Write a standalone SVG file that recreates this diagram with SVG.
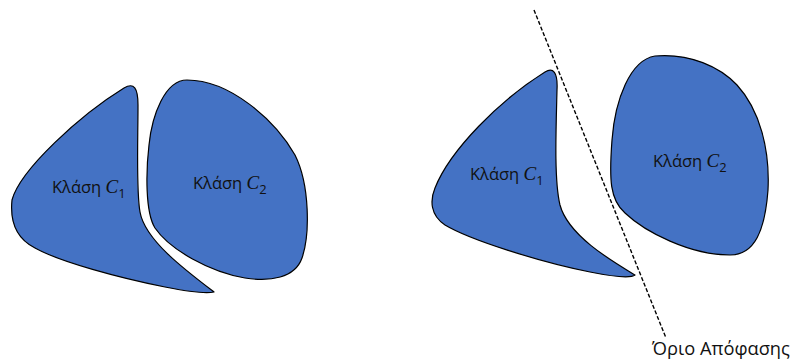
<svg xmlns="http://www.w3.org/2000/svg" width="795" height="363" viewBox="0 0 795 363">
<style>
.blob{fill:#4472C4;stroke:#000;stroke-width:1.2;stroke-linejoin:round}
.lbl{font-family:"Open Sans","Liberation Sans",Arial,sans-serif;font-size:16.5px;fill:#111}
.c{font-family:"Liberation Serif","Times New Roman",serif;font-style:italic;font-size:19px}
.sub{font-family:"Open Sans","Liberation Sans",Arial,sans-serif;font-style:normal;font-size:13px}
.bnd{stroke:#000;stroke-width:1.4;stroke-dasharray:4 2;fill:none}
.blbl{font-family:"Open Sans","Liberation Sans",Arial,sans-serif;font-size:18.3px;fill:#111}
</style>
<rect width="795" height="363" fill="#fff"/>
<g id="left-c1">
<path class="blob" d="M 124,88 C 134,82 138,88 138,105 C 138,140 136,190 140,212 C 145,240 185,270 214,292 C 205,294 180,290 165,287 C 120,278 60,262 35,248 C 15,238 10,220 12,200 C 20,170 80,115 124,88 Z"/>
<text class="lbl" x="52" y="193">Κλάση <tspan class="c">C</tspan><tspan class="sub" dy="5">1</tspan></text>
</g>
<g id="left-c2">
<path class="blob" d="M 187,80 C 230,80 275,120 295,155 C 310,185 310,235 302,258 C 295,278 270,282 245,278 C 210,272 170,250 155,228 C 145,212 146,170 149,145 C 152,115 165,80 187,80 Z"/>
<text class="lbl" x="193" y="189">Κλάση <tspan class="c">C</tspan><tspan class="sub" dy="5">2</tspan></text>
</g>
<g id="right-c1">
<path class="blob" d="M 545,72 C 553,67 558,72 557,90 C 556,130 554,180 560,205 C 568,235 610,260 635,275 C 630,279 610,276 590,272 C 540,262 470,240 445,225 C 430,215 430,200 435,188 C 450,150 500,100 545,72 Z"/>
<text class="lbl" x="470" y="180">Κλάση <tspan class="c">C</tspan><tspan class="sub" dy="5">1</tspan></text>
</g>
<g id="right-c2">
<path class="blob" d="M 655,56 C 630,60 615,100 612,140 C 609,180 610,200 625,213 C 645,232 690,255 730,255 C 755,255 765,230 768,190 C 770,150 760,110 737,85 C 720,67 690,53 655,56 Z"/>
<text class="lbl" x="653" y="167">Κλάση <tspan class="c">C</tspan><tspan class="sub" dy="5">2</tspan></text>
</g>
<g id="connectors">
<line class="bnd" x1="534" y1="10" x2="666" y2="338"/>
</g>
<g id="boundary-label">
<text class="blbl" x="652" y="355">Όριο Απόφασης</text>
</g>
</svg>
